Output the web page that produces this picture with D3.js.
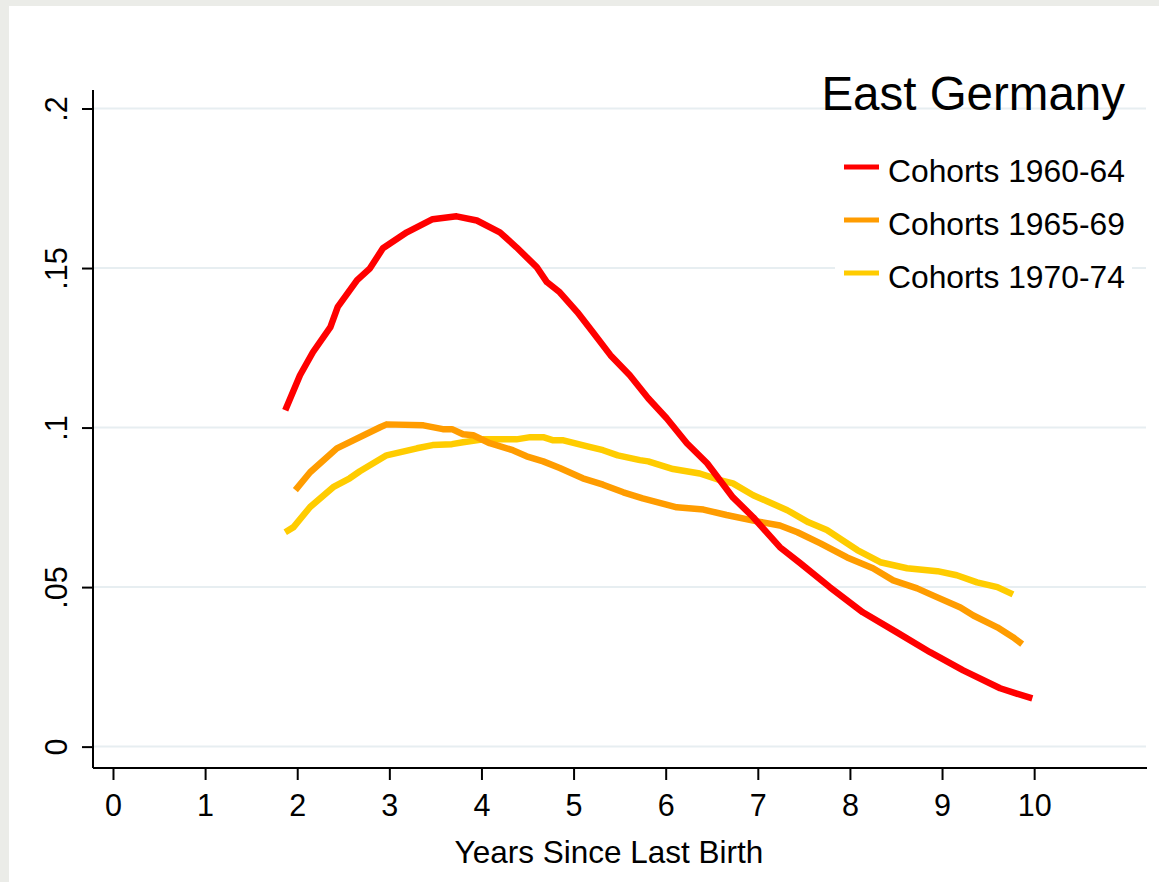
<!DOCTYPE html>
<html>
<head>
<meta charset="utf-8">
<script src="https://cdn.jsdelivr.net/npm/d3@7"></script>
<style>
  html, body { margin: 0; padding: 0; background: #ebece8; }
  svg { display: block; font-family: "Liberation Sans", Arial, Helvetica, sans-serif; }
</style>
</head>
<body>
<div id="chart"></div>
<script>
// values (years since last birth, rate)
var years6064 = [1.87,2.03,2.17,2.36,2.44,2.65,2.79,2.93,3.19,3.47,3.73,3.95,4.20,4.38,4.60,4.71,4.85,5.04,5.21,5.40,5.61,5.81,6.01,6.23,6.45,6.73,6.95,7.24,7.46,7.78,8.14,8.51,8.87,9.23,9.63,9.81,9.98];
var rate6064  = [.1054,.1164,.1236,.1315,.1378,.1462,.1499,.1562,.1612,.1653,.1662,.1649,.1612,.1565,.1503,.1456,.1424,.1362,.1299,.1227,.1164,.1092,.1029,.0951,.0888,.0781,.0719,.0625,.0575,.0500,.0421,.0358,.0296,.0239,.0183,.0166,.0151];

var years6569 = [1.98,2.14,2.43,2.90,2.97,3.37,3.58,3.68,3.80,3.91,4.09,4.34,4.49,4.67,4.85,5.10,5.32,5.54,5.75,6.12,6.41,6.66,6.99,7.24,7.43,7.68,7.97,8.25,8.47,8.73,8.90,9.20,9.34,9.60,9.77,9.87];
var rate6569  = [.0804,.0860,.0935,.1001,.1010,.1007,.0995,.0995,.0979,.0976,.0951,.0929,.0910,.0894,.0873,.0841,.0821,.0797,.0778,.0750,.0743,.0726,.0706,.0693,.0672,.0637,.0593,.0559,.0521,.0496,.0474,.0436,.0411,.0374,.0343,.0321];

var years7074 = [1.87,1.96,2.14,2.39,2.57,2.68,2.97,3.30,3.47,3.68,3.80,4.02,4.38,4.53,4.67,4.78,4.89,5.15,5.32,5.48,5.72,5.81,6.08,6.37,6.59,6.73,6.95,7.10,7.32,7.55,7.75,8.08,8.33,8.62,8.95,9.16,9.38,9.60,9.77];
var rate7074  = [.0672,.0688,.0751,.0813,.0841,.0863,.0913,.0935,.0945,.0948,.0954,.0963,.0963,.0970,.0970,.0960,.0960,.0941,.0929,.0913,.0898,.0894,.0870,.0856,.0835,.0825,.0788,.0769,.0741,.0703,.0679,.0616,.0578,.0559,.0550,.0537,.0515,.0500,.0477];

var seriesNames  = ["Cohorts 1960-64", "Cohorts 1965-69", "Cohorts 1970-74"];
var seriesColors = ["#ff0000", "#ff9c00", "#ffcc00"];
var xTicks = [0,1,2,3,4,5,6,7,8,9,10];
var yTicks = [0,.05,.1,.15,.2];
var yTickLabels = ["0", ".05", ".1", ".15", ".2"];

var series = [
  {name: seriesNames[0], color: seriesColors[0], xs: years6064, ys: rate6064},
  {name: seriesNames[1], color: seriesColors[1], xs: years6569, ys: rate6569},
  {name: seriesNames[2], color: seriesColors[2], xs: years7074, ys: rate7074}
];

var W = 1159, H = 882;
var plot = {left: 93, right: 1147, top: 90, bottom: 768};

var svg = d3.select("#chart").append("svg")
  .attr("width", W)
  .attr("height", H);

// outer frame and white graph region
svg.append("rect").attr("width", W).attr("height", H).attr("fill", "#ebece8");
svg.append("rect").attr("x", 9).attr("y", 6).attr("width", W - 9).attr("height", H - 6).attr("fill", "#ffffff");

var x = d3.scaleLinear().domain([-0.217, 11.225]).range([plot.left, plot.right]);
var y = d3.scaleLinear().domain([-0.0067, 0.2058]).range([plot.bottom, plot.top]);

// gridlines
svg.append("g").selectAll("line")
  .data(yTicks)
  .enter().append("line")
  .attr("x1", plot.left).attr("x2", plot.right - 1)
  .attr("y1", function(d){ return y(d); })
  .attr("y2", function(d){ return y(d); })
  .attr("stroke", "#e7eef1")
  .attr("stroke-width", 2);

// y axis
var yAxis = svg.append("g")
  .attr("transform", "translate(" + plot.left + ",0)")
  .call(d3.axisLeft(y).tickValues(yTicks).tickSize(11).tickPadding(0)
    .tickFormat(function(d, i){ return yTickLabels[i]; }));
yAxis.select(".domain").attr("d", "M0," + plot.bottom + "V" + plot.top);
yAxis.selectAll("line, path").attr("stroke", "#000").attr("stroke-width", 2);
yAxis.selectAll("text")
  .attr("x", 0).attr("y", 0).attr("dy", null)
  .attr("text-anchor", "middle")
  .attr("font-size", 30.5)
  .attr("fill", "#000")
  .attr("transform", "translate(-26,0) rotate(-90)");

// x axis
var xAxis = svg.append("g")
  .attr("transform", "translate(0," + plot.bottom + ")")
  .call(d3.axisBottom(x).tickValues(xTicks).tickSize(12).tickPadding(0).tickFormat(d3.format("d")));
xAxis.select(".domain").attr("d", "M" + plot.left + ",0H" + plot.right);
xAxis.selectAll("line, path").attr("stroke", "#000").attr("stroke-width", 2);
xAxis.selectAll("text")
  .attr("y", 48).attr("dy", null)
  .attr("font-size", 30.5)
  .attr("fill", "#000");

svg.append("text")
  .attr("x", 609).attr("y", 863)
  .attr("text-anchor", "middle")
  .attr("font-size", 31.5)
  .text("Years Since Last Birth");

// curves
var line = d3.line()
  .x(function(d){ return x(d[0]); })
  .y(function(d){ return y(d[1]); });

svg.append("g").selectAll("path")
  .data(series.slice().reverse())
  .enter().append("path")
  .attr("d", function(s){ return line(s.xs.map(function(v, i){ return [v, s.ys[i]]; })); })
  .attr("fill", "none")
  .attr("stroke", function(s){ return s.color; })
  .attr("stroke-width", 6.5)
  .attr("stroke-linejoin", "round");

// title and legend
svg.append("text")
  .attr("x", 1125).attr("y", 110)
  .attr("text-anchor", "end")
  .attr("font-size", 47.5)
  .text("East Germany");

var legend = svg.append("g");
legend.append("rect")
  .attr("x", 835).attr("y", 140)
  .attr("width", 297).attr("height", 160)
  .attr("fill", "#ffffff");

var item = legend.selectAll("g.item")
  .data(series)
  .enter().append("g")
  .attr("class", "item")
  .attr("transform", function(d, i){ return "translate(0," + (182 + i * 53) + ")"; });

item.append("line")
  .attr("x1", 844).attr("x2", 879)
  .attr("y1", -15).attr("y2", -15)
  .attr("stroke", function(d){ return d.color; })
  .attr("stroke-width", 5);

item.append("text")
  .attr("x", 888).attr("y", 0)
  .attr("font-size", 31.8)
  .text(function(d){ return d.name; });
</script>
</body>
</html>
